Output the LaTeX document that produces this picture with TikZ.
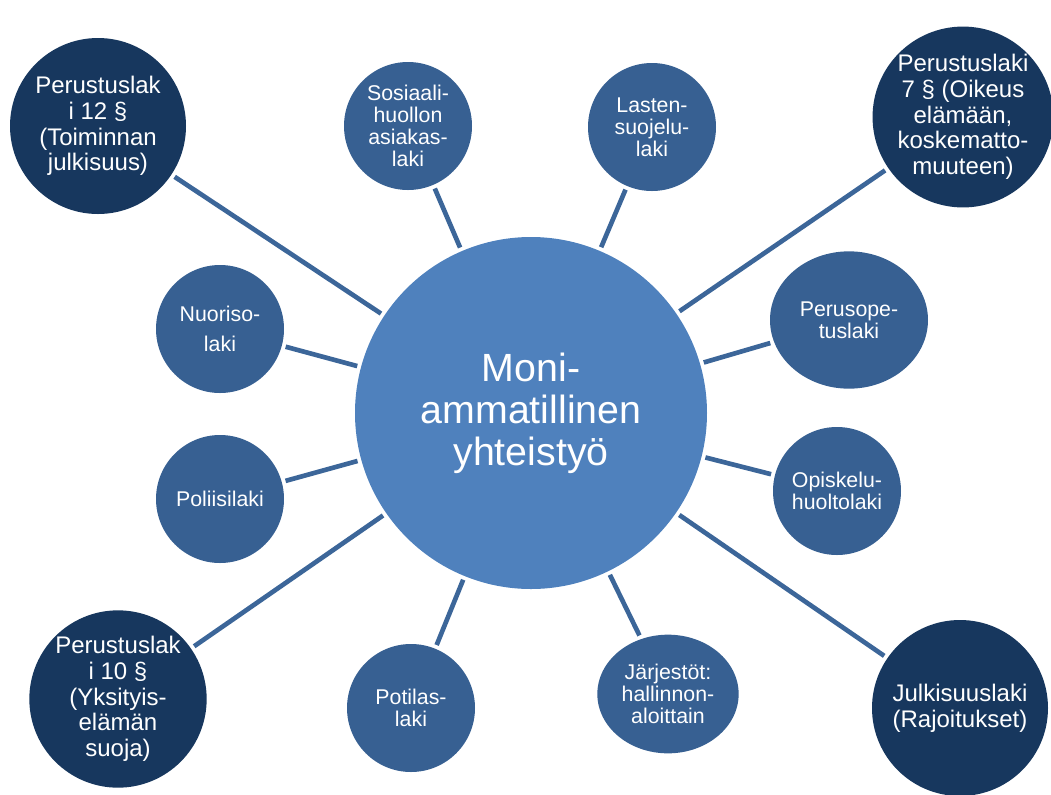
\documentclass[tikz,border=0pt]{standalone}
\usepackage{fontspec}
\setmainfont{Liberation Sans}
\usetikzlibrary{shapes.geometric}
\definecolor{centreblue}{RGB}{79,129,189}
\definecolor{lawblue}{RGB}{55,96,146}
\definecolor{darkblue}{RGB}{23,55,94}
\definecolor{linkblue}{RGB}{60,102,153}
\begin{document}
\begin{tikzpicture}[x=0.75pt,y=-0.75pt,
    hub/.style={circle,fill=centreblue,text=white,minimum size=264pt,inner sep=0pt,outer sep=3pt,align=center,font=\fontsize{29.5}{31.5}\selectfont},
    law/.style={circle,fill=lawblue,text=white,minimum size=96pt,inner sep=0pt,outer sep=3pt,align=center,font=\fontsize{16}{16.5}\selectfont},
    ovallaw/.style={ellipse,fill=lawblue,text=white,inner sep=0pt,outer sep=3pt,align=center,font=\fontsize{16}{16.5}\selectfont},
    biglaw/.style={circle,fill=darkblue,text=white,minimum size=132pt,inner sep=0pt,outer sep=3pt,align=center,font=\fontsize{18}{19.3}\selectfont},
    link/.style={draw=linkblue,line width=3.5pt}]
        \useasboundingbox (0,0) rectangle (1051,794);
        % centre
        \node[hub] (moni) at (531,413) {Moni-\\ammatillinen\\yhteistyö};
        % dark corner circles
        \node[biglaw] (pl12) at (98,126) {Perustuslak\\i 12 §\\(Toiminnan\\julkisuus)};
        \node[biglaw] (pl7) at (963,117) {Perustuslaki\\7 § (Oikeus\\elämään,\\koskematto-\\muuteen)};
        \node[biglaw] (pl10) at (118,699) {Perustuslak\\i 10 §\\(Yksityis-\\elämän\\suoja)};
        \node[biglaw] (julk) at (960,708) {Julkisuuslaki\\(Rajoitukset)};
        % smaller circles
        \node[law] (sosi) at (408,126) {Sosiaali-\\huollon\\asiakas-\\laki};
        \node[law] (last) at (652,127) {Lasten-\\suojelu-\\laki};
        \node[law] (nuor) at (220,329) {Nuoriso-\\[6pt]laki};
        \node[law] (poli) at (220,499) {Poliisilaki};
        \node[ovallaw,minimum width=118.5pt,minimum height=103pt] (peru) at (849,320) {Perusope-\\tuslaki};
        \node[law] (opis) at (837,491) {Opiskelu-\\huoltolaki};
        \node[law] (poti) at (411,708) {Potilas-\\laki};
        \node[ovallaw,minimum width=106pt,minimum height=89pt] (jarj) at (668,694) {Järjestöt:\\hallinnon-\\aloittain};
        % connectors
        \foreach \n in {pl12,pl7,pl10,julk,sosi,last,nuor,poli,peru,opis,poti,jarj}
            \draw[link] (moni) -- (\n);
\end{tikzpicture}
\end{document}
